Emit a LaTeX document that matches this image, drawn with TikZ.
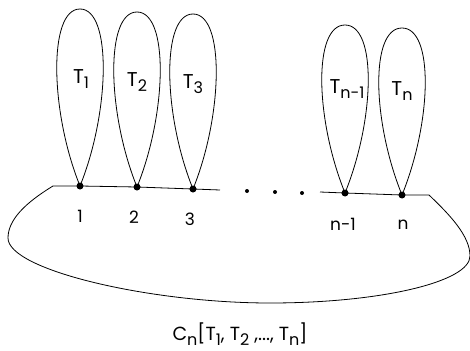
\documentclass[tikz,border=0pt]{standalone}
\usepackage{fontspec}
\setmainfont{Poppins}
\newcommand\lsub[1]{\raisebox{-0.5ex}{\fontsize{16}{16}\selectfont #1}}
\begin{document}
\begin{tikzpicture}[x=1pt,y=-1pt,line width=0.8pt,
  vtx/.style={circle,fill=black,inner sep=0pt,minimum size=7pt},
  sdot/.style={circle,fill=black,inner sep=0pt,minimum size=4pt},
  tlab/.style={font=\fontsize{20}{20}\selectfont,inner sep=0pt},
  nlab/.style={font=\fontsize{17}{17}\selectfont,inner sep=0pt},
  captxt/.style={font=\fontsize{19}{19}\selectfont,inner sep=0pt}]
\useasboundingbox (0,0) rectangle (470,350);
% vertices
\node[vtx] (v1) at (80,186) {};
\node[vtx] (v2) at (137,187) {};
\node[vtx] (v3) at (193,189) {};
\node[vtx] (vm) at (345,193) {};
\node[vtx] (vn) at (402,195) {};
\coordinate (L) at (53,186);
\coordinate (R) at (429,195);
\coordinate (g1) at (220,190);
\coordinate (g2) at (320,192);
% ellipsis dots
\node[sdot] (d1) at (247,191) {};
\node[sdot] (d2) at (275,192) {};
\node[sdot] (d3) at (302,193) {};
% loop tops
\coordinate (t1) at (80,9);
\coordinate (t2) at (137,12);
\coordinate (t3) at (193,14);
\coordinate (tm) at (345,25);
\coordinate (tn) at (402,28);
% loops
\foreach \v/\t in {v1/t1,v2/t2,v3/t3,vm/tm,vn/tn}{
  \draw (\v.center) .. controls +(-30,-74) and +(-32,0) .. (\t)
                    .. controls +(32,0) and +(30,-74) .. (\v.center);
}
% top edge
\draw (L) -- (v1.center) -- (v2.center) -- (v3.center) -- (g1);
\draw (g2) -- (vm.center) -- (vn.center) -- (R);
% outline
\draw (L) .. controls (25,203) and (8,220) .. (8,238)
          .. controls (8,270) and (150,303) .. (270,303)
          .. controls (380,303) and (470,282) .. (470,256)
          .. controls (470,236) and (450,215) .. (R);
% labels
\node[tlab] (l1) at (81,79) {T\lsub{1}};
\node[tlab] (l2) at (137,82) {T\lsub{2}};
\node[tlab] (l3) at (193,84) {T\lsub{3}};
\node[tlab] (lm) at (347,89) {T\lsub{n-1}};
\node[tlab] (ln) at (402,91) {T\lsub{n}};
\node[nlab] (n1) at (80,216) {1};
\node[nlab] (n2) at (134,217) {2};
\node[nlab] (n3) at (190,219) {3};
\node[nlab] (nm) at (343,224) {n-1};
\node[nlab] (nn) at (403,225) {n};
\node[captxt] (c) at (240,334) {C\lsub{n}[T\lsub{1}, T\lsub{2} ,..., T\lsub{n}]};
\end{tikzpicture}
\end{document}
